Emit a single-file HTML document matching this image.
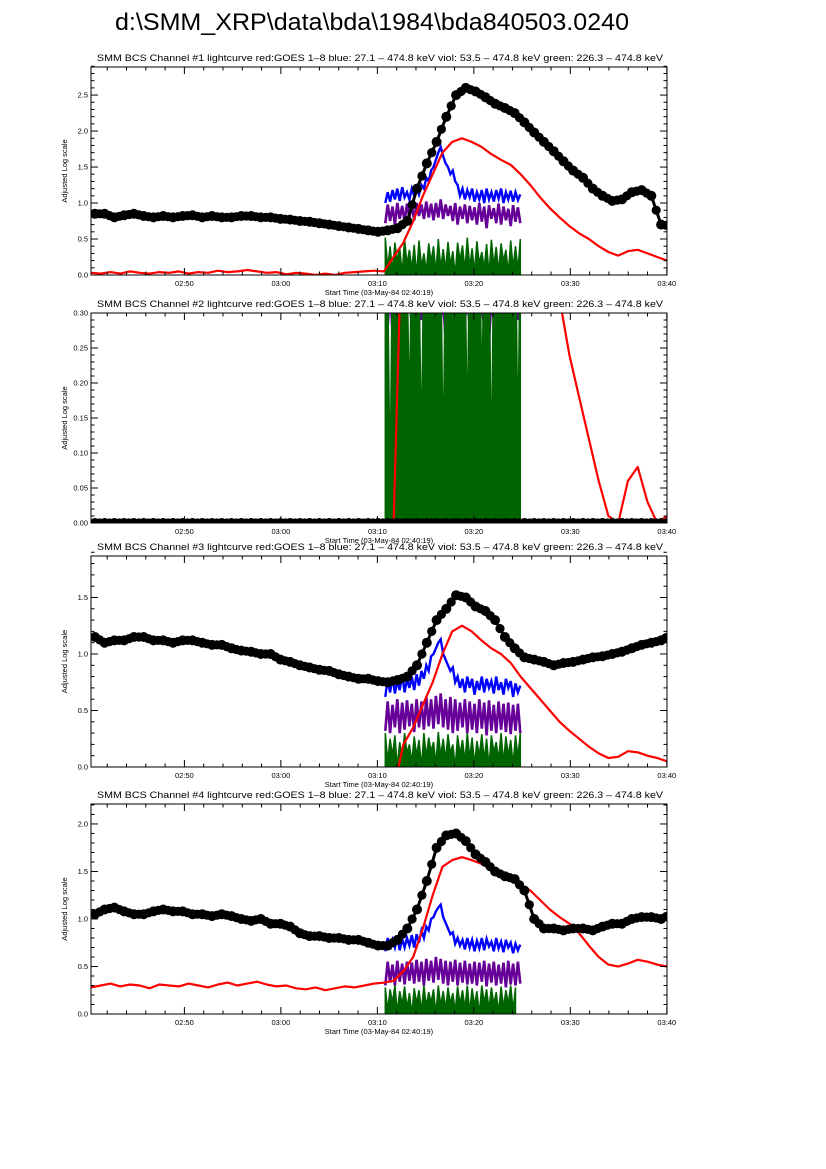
<!DOCTYPE html>
<html><head><meta charset="utf-8"><style>
html,body{margin:0;padding:0;background:#fff;}
svg{display:block;font-family:"Liberation Sans",sans-serif;}
</style></head><body>
<svg id="chart" width="826" height="1169" viewBox="0 0 826 1169">
<rect x="0" y="0" width="826" height="1169" fill="#fff"/>
<text x="372" y="30" font-size="24" text-anchor="middle" textLength="514" lengthAdjust="spacingAndGlyphs">d:\SMM_XRP\data\bda\1984\bda840503.0240</text>
</svg>
<script>
// ---- data (time in minutes since 02:40:19) ----
const xTickLabels = ["02:50","03:00","03:10","03:20","03:30","03:40"];
const xTickMinutes = [9.68,19.68,29.68,39.68,49.68,59.68];
const panelTitles = [1,2,3,4];
const yTicks1 = ["0.0","0.5","1.0","1.5","2.0","2.5"];
const yTicks2 = ["0.00","0.05","0.10","0.15","0.20","0.25","0.30"];
const yTicks3 = ["0.0","0.5","1.0","1.5"];
const yTicks4 = ["0.0","0.5","1.0","1.5","2.0"];

const black1 = [.85,.85,.8,.83,.85,.82,.8,.82,.8,.82,.83,.8,.82,.8,.8,.82,.82,.8,.8,.78,.77,.75,.74,.72,.7,.68,.66,.64,.62,.6,
.62,.65,.75,1.2,1.55,1.85,2.2,2.5,2.6,2.55,2.47,2.38,2.32,2.25,2.12,1.98,1.85,1.72,1.58,1.45,1.35,1.2,1.1,1.03,1.05,1.15,1.18,1.1,.7,.68];
const red1 = [.03,.02,.04,.02,.05,.03,.02,.04,.03,.05,.02,.04,.03,.06,.04,.05,.07,.05,.03,.04,.01,.03,.02,0,.02,0,.03,.04,.05,.06,
.05,.25,.45,.75,1.1,1.4,1.7,1.85,1.9,1.85,1.78,1.68,1.6,1.53,1.4,1.25,1.08,.93,.8,.68,.58,.5,.4,.32,.27,.33,.35,.3,.25,.2];
const blue1 = [1.0,1.15,1.02,1.18,1.05,1.2,1.03,1.22,1.08,1.15,1.05,1.2,1.1,1.22,1.12,1.25,1.2,1.35,1.3,1.45,1.5,1.6,1.7,1.78,1.65,1.55,1.5,1.4,1.45,1.3,1.25,1.1,1.2,1.05,1.18,1.08,
1.2,1.02,1.15,1.05,1.18,1.0,1.2,1.05,1.15,1.02,1.18,1.06,1.2,1.0,1.15,1.05,1.17,1.02,1.15,1.04,1.12];
const viol1 = [.72,.98,.75,.95,.7,1.0,.78,.96,.74,.99,.8,.97,.76,1.0,.82,.98,.78,1.02,.8,.99,.76,1.0,.8,1.05,.78,.98,.82,.96,.75,1.0,.7,.95,.78,.98,.72,.96,
.76,.94,.7,1.0,.74,.95,.65,.97,.78,.93,.72,.99,.7,.95,.76,.92,.68,.97,.74,.94,.72];
const green1 = [.52,.1,.4,.05,.45,.2,.38,.02,.5,.15,.35,.08,.42,0,.48,.12,.3,.05,.44,.18,.4,.03,.5,.1,.36,.07,.46,.14,.33,0,.45,.2,.41,.06,.52,.11,
.37,.04,.47,.16,.32,.09,.43,.01,.49,.13,.39,.05,.44,.19,.35,.02,.48,.1,.4,.07,.5];

const black2 = [0,0,0,0,0,0,0,0,0,0,0,0,0,0,0,0,0,0,0,0,0,0,0,0,0,0,0,0,0,0,0,0,0,0,0,0,0,0,0,0,0,0,0,0,0,0,0,0,0,0,0,0,0,0,0,0,0,0,0,0];
const red2 = [-.1,-.1,-.1,-.1,-.1,-.1,-.1,-.1,-.1,-.1,-.1,-.1,-.1,-.1,-.1,-.1,-.1,-.1,-.1,-.1,-.1,-.1,-.1,-.1,-.1,-.1,-.1,-.1,-.1,-.1,
-.1,0,.5,.5,.5,.5,.5,.5,.5,.5,.5,.5,.5,.5,.5,.5,.5,.5,.32,.24,.18,.12,.06,.01,0,.06,.08,.03,0,.01];
const blue2 = [.6,.7,.6,.7,.6,.7,.6,.7,.6,.7,.6,.7,.6,.7,.6,.7,.6,.7,.6,.7,.6,.7,.6,.7,.6,.7,.6,.7,.6,.7,.6,.7,.6,.7,.6,.7,.6,.7,.6,.7,.6,.7,.6,.7,.6,.7,.6,.7,.6,.7,.6,.7,.6,.7,.6,.7,.6];
const viol2 = [.32,.28,.34,.27,.33,.29,.35,.26,.31,.3,.33,.28,.34,.27,.32,.29,.35,.28,.33,.3,.31,.27,.34,.29,.32,.26,.35,.28,.33,.3,.31,.27,.34,.29,.32,.28,
.35,.27,.33,.3,.31,.28,.34,.26,.32,.29,.33,.27,.35,.28,.31,.3,.34,.27,.32,.29,.33];
const green2 = [.4,.35,.05,.4,.38,.42,.2,.45,.4,.38,.15,.42,.4,.45,.36,.1,.42,.4,.38,.44,.3,.42,.45,.4,.08,.41,.4,.43,.38,.45,.25,.4,.42,.39,.12,.44,
.4,.42,.38,.45,.18,.4,.43,.41,.06,.42,.4,.38,.45,.22,.4,.43,.41,.39,.44,.1,.42];

const black3 = [1.15,1.1,1.12,1.12,1.15,1.15,1.12,1.12,1.1,1.12,1.12,1.1,1.08,1.08,1.05,1.03,1.02,1.0,1.0,.95,.93,.9,.88,.86,.85,.82,.8,.78,.78,.76,
.75,.77,.8,.9,1.1,1.3,1.4,1.52,1.5,1.42,1.38,1.3,1.15,1.05,.97,.95,.93,.9,.92,.93,.95,.97,.98,1.0,1.02,1.05,1.08,1.1,1.12,1.17];
const red3 = [-.2,-.2,-.2,-.2,-.2,-.2,-.2,-.2,-.2,-.2,-.2,-.2,-.2,-.2,-.2,-.2,-.2,-.2,-.2,-.2,-.2,-.2,-.2,-.2,-.2,-.2,-.2,-.2,-.2,-.2,-.2,-.2,
.2,.35,.55,.75,1.0,1.2,1.25,1.2,1.12,1.05,1.0,.92,.8,.7,.6,.5,.4,.32,.25,.18,.12,.08,.09,.14,.13,.1,.08,.05];
const blue3 = [.62,.78,.66,.8,.65,.76,.68,.82,.66,.78,.7,.8,.68,.82,.72,.85,.78,.9,.85,.98,1.0,1.05,1.1,1.13,1.0,.95,.9,.85,.88,.75,.8,.7,.78,.66,.8,.7,
.78,.64,.76,.68,.8,.66,.78,.7,.76,.65,.8,.68,.75,.64,.78,.7,.76,.62,.74,.66,.72];
const viol3 = [.32,.58,.3,.55,.35,.6,.3,.57,.33,.59,.36,.56,.31,.6,.35,.58,.33,.62,.36,.6,.34,.63,.38,.65,.35,.6,.33,.62,.3,.6,.32,.57,.35,.6,.3,.58,
.33,.56,.3,.6,.34,.57,.28,.59,.32,.55,.3,.58,.33,.56,.31,.57,.29,.55,.32,.56,.3];
const green3 = [.3,.05,.25,.1,.28,0,.22,.08,.3,.12,.2,.04,.27,.1,.24,0,.3,.09,.26,.14,.22,.03,.31,.1,.25,.06,.29,.12,.2,0,.28,.11,.24,.05,.3,.08,
.26,.02,.23,.1,.29,.06,.25,0,.28,.13,.22,.07,.3,.04,.27,.1,.24,.02,.28,.09,.3];

const black4 = [1.05,1.1,1.12,1.08,1.05,1.05,1.08,1.1,1.08,1.08,1.05,1.05,1.03,1.05,1.03,1.0,.98,1.0,.95,.95,.92,.85,.82,.82,.8,.8,.78,.78,.75,.72,
.72,.78,.9,1.1,1.4,1.75,1.88,1.9,1.82,1.68,1.6,1.5,1.45,1.42,1.3,1.0,.9,.9,.88,.9,.9,.88,.92,.95,.95,1.0,1.02,1.02,1.0,1.05];
const red4 = [.28,.3,.32,.29,.31,.3,.27,.31,.3,.29,.32,.3,.28,.31,.33,.3,.32,.34,.31,.29,.3,.27,.26,.28,.25,.27,.29,.28,.3,.32,.33,
.35,.45,.6,.9,1.25,1.55,1.62,1.65,1.62,1.58,1.52,1.48,1.42,1.36,1.3,1.2,1.1,1.02,.95,.85,.72,.6,.52,.5,.53,.57,.55,.52,.5];
const blue4 = [.66,.8,.68,.78,.7,.82,.67,.79,.7,.8,.72,.83,.7,.84,.75,.88,.8,.92,.88,1.0,1.02,1.08,1.12,1.15,1.02,.96,.9,.84,.86,.74,.8,.72,.78,.68,.8,.7,
.78,.66,.77,.69,.8,.67,.79,.71,.76,.66,.8,.69,.76,.65,.78,.7,.75,.64,.74,.67,.73];
const viol4 = [.3,.55,.33,.52,.3,.56,.34,.53,.31,.55,.35,.54,.32,.57,.34,.55,.3,.58,.35,.56,.33,.6,.36,.58,.32,.56,.3,.55,.34,.57,.3,.54,.33,.56,.31,.53,
.32,.55,.3,.54,.34,.56,.29,.53,.33,.55,.3,.52,.32,.54,.28,.56,.31,.53,.3,.55,.32];
const green4 = [.28,.04,.26,.12,.3,.02,.24,.1,.29,.06,.22,0,.27,.11,.25,.03,.3,.08,.23,.12,.26,0,.3,.09,.24,.05,.28,.11,.22,.03,.29,.1,.25,.06,.3,.02,
.27,.09,.24,0,.3,.12,.26,.05,.28,.1,.23,.02,.29,.07,.25,.11,.3,.04,.28];

// ---- layout ----
const NS = "http://www.w3.org/2000/svg";
const svg = document.getElementById("chart");
const X0 = 91, X1 = 667, TMAX = 59.7;
const SLOW = TMAX / 59;
const FAST0 = 30.5, FSTEP = 0.25;
const panels = [
  {top:67, bot:275, ymax:2.89, ticks:yTicks1, minor:0.1, black:black1, red:red1, blue:blue1, viol:viol1, green:green1},
  {top:313, bot:523, ymax:0.30, ticks:yTicks2, minor:0.01, black:black2, red:red2, blue:blue2, viol:viol2, green:green2},
  {top:556, bot:767, ymax:1.867, ticks:yTicks3, minor:0.1, black:black3, red:red3, blue:blue3, viol:viol3, green:green3},
  {top:804, bot:1014, ymax:2.21, ticks:yTicks4, minor:0.1, black:black4, red:red4, blue:blue4, viol:viol4, green:green4}
];
function el(tag, attrs, parent){
  const e = document.createElementNS(NS, tag);
  for (const k in attrs) e.setAttribute(k, attrs[k]);
  (parent||svg).appendChild(e);
  return e;
}
function xs(t){ return X0 + (X1 - X0) * t / TMAX; }

panels.forEach((p, pi) => {
  const n = pi + 1;
  const ys = v => p.bot - (p.bot - p.top) * v / p.ymax;
  const g = el("g", {});
  
  

  const cp = el("clipPath", {id:"clip" + n}, g);
  el("rect", {x:X0, y:p.top, width:X1 - X0, height:p.bot - p.top}, cp);
  const plot = el("g", {"clip-path":"url(#clip" + n + ")"}, g);
  
  

  const fastPts = arr => arr.map((v, i) => xs(FAST0 + i * FSTEP).toFixed(1) + "," + ys(v).toFixed(1)).join(" ");
  const bl = el("polyline", {points:fastPts(p.blue), fill:"none", stroke:"#0000ff", "stroke-width":2.4}, plot);
  
  
  const vl = el("polyline", {points:fastPts(p.viol), fill:"none", stroke:"#660099", "stroke-width":2.6}, plot);
  
  
  const gp = xs(FAST0).toFixed(1) + "," + ys(0) + " " + fastPts(p.green) + " " + xs(FAST0 + (p.green.length - 1) * FSTEP).toFixed(1) + "," + ys(0);
  const gl = el("polygon", {points:gp, fill:"#006400", stroke:"#006400", "stroke-width":1.5}, plot);
  
  
  const rp = p.red.map((v, i) => xs(i * SLOW).toFixed(1) + "," + ys(v).toFixed(1)).join(" ");
  const rl = el("polyline", {points:rp, fill:"none", stroke:"#ff0000", "stroke-width":2.2, "stroke-linejoin":"round"}, plot);
  
  
  const bp = p.black.map((v, i) => xs(i * SLOW + 0.4).toFixed(1) + "," + ys(v).toFixed(1)).join(" ");
  const kl = el("polyline", {points:bp, fill:"none", stroke:"#000", "stroke-width":pi === 1 ? 6 : 3, "stroke-linejoin":"round"}, plot);
  
  
  p.black.forEach((v, i) => {
    const c = el("circle", {cx:xs(i * SLOW + 0.4).toFixed(1), cy:ys(v).toFixed(1), r:5, fill:"#000"}, plot);
    
    
    if (i < p.black.length - 1) {
      const v2 = p.black[i + 1];
      const m = el("circle", {cx:xs((i + 0.5) * SLOW + 0.4).toFixed(1), cy:((ys(v) + ys(v2)) / 2).toFixed(1), r:4.6, fill:"#000"}, plot);
      
      
    }
  });

  const fr = el("rect", {x:X0, y:p.top, width:X1 - X0, height:p.bot - p.top, fill:"none", stroke:"#000", "stroke-width":1}, g);
  
  

  for (let m = 0; m <= 60; m += 2) {
    const t = m - 0.32;
    if (t < 0 || t > TMAX) continue;
    const major = (m % 10 === 0);
    const L = major ? 7 : 3.5;
    el("line", {x1:xs(t), x2:xs(t), y1:p.bot, y2:p.bot - L, stroke:"#000", "stroke-width":1}, g);
    el("line", {x1:xs(t), x2:xs(t), y1:p.top, y2:p.top + L, stroke:"#000", "stroke-width":1}, g);
  }
  xTickLabels.forEach((lab, i) => {
    const tx = el("text", {x:xs(xTickMinutes[i]), y:p.bot + 11, "font-size":7.5, "text-anchor":"middle"}, g);
    tx.textContent = lab;
    
    
  });
  const nMinor = Math.round(p.ymax / p.minor);
  for (let k = 0; k <= nMinor; k++) {
    const v = k * p.minor;
    const major = (k % 5 === 0);
    const L = major ? 7 : 3.5;
    el("line", {x1:X0, x2:X0 + L, y1:ys(v), y2:ys(v), stroke:"#000", "stroke-width":1}, g);
    el("line", {x1:X1, x2:X1 - L, y1:ys(v), y2:ys(v), stroke:"#000", "stroke-width":1}, g);
  }
  p.ticks.forEach(lab => {
    const ty = el("text", {x:X0 - 3, y:ys(parseFloat(lab)) + 2.5, "font-size":7.5, "text-anchor":"end"}, g);
    ty.textContent = lab;
    
    
  });
  const tt = el("text", {x:380, y:p.top - 6, "font-size":9, "text-anchor":"middle", textLength:566, lengthAdjust:"spacingAndGlyphs"}, g);
  tt.textContent = "SMM BCS Channel #" + panelTitles[pi] + " lightcurve  red:GOES 1\u20138  blue: 27.1 \u2013 474.8 keV  viol: 53.5 \u2013 474.8 keV  green: 226.3 \u2013 474.8 keV";
  
  
  const st = el("text", {x:379, y:p.bot + 20, "font-size":7.5, "text-anchor":"middle"}, g);
  st.textContent = "Start Time (03-May-84 02:40:19)";
  
  
  const cy = (p.top + p.bot) / 2;
  const yt = el("text", {x:0, y:0, "font-size":7.5, "text-anchor":"middle", transform:"translate(67," + cy + ") rotate(-90)"}, g);
  yt.textContent = "Adjusted Log scale";
  
  
});
</script>
</body></html>
